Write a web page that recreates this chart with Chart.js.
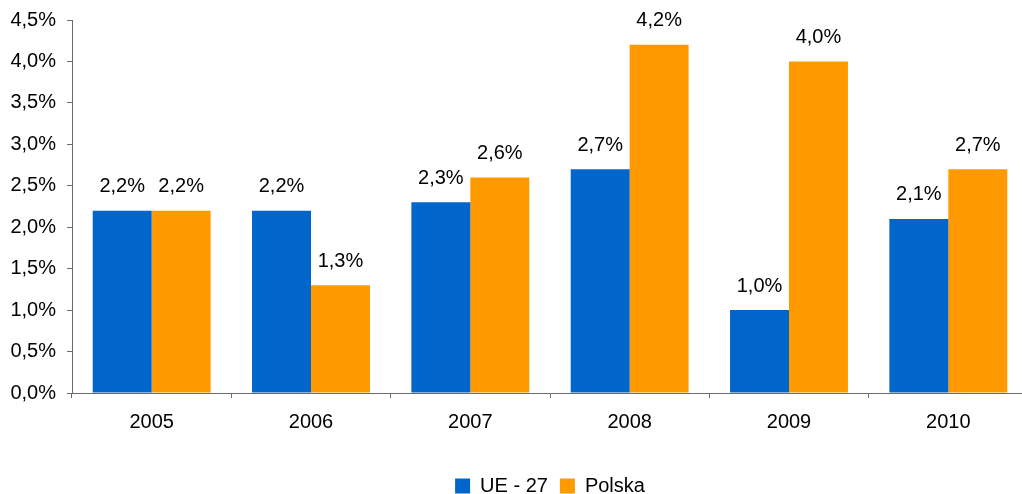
<!DOCTYPE html>
<html>
<head>
<meta charset="utf-8">
<script src="https://cdn.jsdelivr.net/npm/chart.js@4"></script>
<style>
    html, body { margin: 0; padding: 0; background: #fff; overflow: hidden; }
    #wrap { width: 1022px; height: 494px; overflow: hidden; position: relative; }
    #box { width: 1030px; height: 506px; position: absolute; left: 0; top: 0; }
</style>
</head>
<body>
<div id="wrap"><div id="box"><canvas id="grafico"></canvas></div></div>
<script>
// Lata i wartości (%) dla obu serii
var lata = ['2005', '2006', '2007', '2008', '2009', '2010'];
var ue27 = [2.2, 2.2, 2.3, 2.7, 1.0, 2.1];
var polska = [2.2, 1.3, 2.6, 4.2, 4.0, 2.7];
var osY = [0, 0.5, 1, 1.5, 2, 2.5, 3, 3.5, 4, 4.5];

var czcionka = "'Liberation Sans', Arial, sans-serif";
var kolorOsi = '#6b6b6b';

function procent(v) {
    return v.toFixed(1).replace('.', ',') + '%';
}

// Etykiety z wartościami nad słupkami
var etykiety = {
    id: 'etykiety',
    afterDatasetsDraw: function(chart) {
        var ctx = chart.ctx;
        ctx.save();
        ctx.font = '20px ' + czcionka;
        ctx.fillStyle = '#000';
        ctx.textAlign = 'center';
        ctx.textBaseline = 'middle';
        chart.data.datasets.forEach(function(ds, i) {
            chart.getDatasetMeta(i).data.forEach(function(bar, j) {
                ctx.fillText(procent(ds.data[j]), bar.x, bar.y - 24);
            });
        });
        ctx.restore();
    }
};

new Chart(document.getElementById('grafico'), {
    type: 'bar',
    data: {
        labels: lata,
        datasets: [
            { label: 'UE - 27', data: ue27, backgroundColor: '#0066CC' },
            { label: 'Polska', data: polska, backgroundColor: '#FF9900' }
        ]
    },
    options: {
        responsive: true,
        maintainAspectRatio: false,
        animation: false,
        layout: { padding: { top: 20, right: 2, left: 0, bottom: 0 } },
        datasets: {
            bar: { categoryPercentage: 0.74, barPercentage: 1.0 }
        },
        plugins: {
            tooltip: { enabled: false },
            legend: {
                position: 'bottom',
                fullSize: false,
                labels: {
                    boxWidth: 15,
                    boxHeight: 15,
                    padding: 12,
                    color: '#000',
                    font: { family: czcionka, size: 20 }
                }
            }
        },
        scales: {
            x: {
                grid: {
                    drawOnChartArea: false,
                    drawTicks: true,
                    tickLength: 5,
                    color: kolorOsi
                },
                border: { color: kolorOsi, width: 1 },
                ticks: {
                    color: '#000',
                    padding: 12,
                    font: { family: czcionka, size: 20 }
                },
                afterFit: function(scale) { scale.height = 71; }
            },
            y: {
                min: 0,
                max: 4.5,
                afterBuildTicks: function(scale) {
                    scale.ticks = osY.map(function(v) { return { value: v }; });
                },
                grid: {
                    drawOnChartArea: false,
                    drawTicks: true,
                    tickLength: 5,
                    color: kolorOsi
                },
                border: { color: kolorOsi, width: 1 },
                ticks: {
                    color: '#000',
                    padding: 11,
                    font: { family: czcionka, size: 20 },
                    callback: function(v) { return procent(v); }
                },
                afterFit: function(scale) {
                    scale.width = 72;
                    scale.paddingTop = 0;
                    scale.paddingBottom = 0;
                }
            }
        }
    },
    plugins: [etykiety]
});
</script>
</body>
</html>
